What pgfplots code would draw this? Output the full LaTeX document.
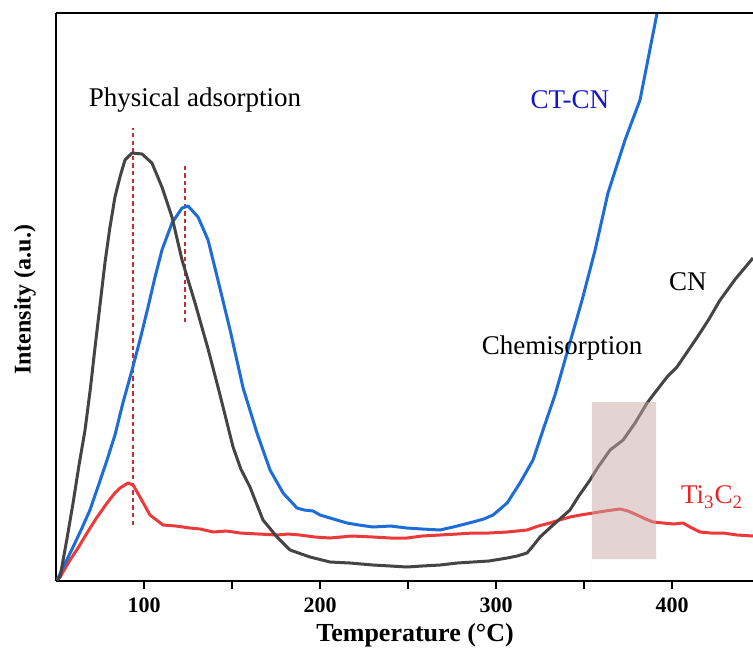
\documentclass[border=0pt]{standalone}
\usepackage{fontspec}
\setmainfont{Liberation Serif}
\usepackage{pgfplots}
\pgfplotsset{compat=1.18}
\definecolor{cngray}{RGB}{68,68,68}
\definecolor{ctblue}{RGB}{28,108,218}
\definecolor{tired}{RGB}{236,58,58}
\definecolor{dashred}{RGB}{200,45,45}
\definecolor{lblblue}{RGB}{20,20,205}
\definecolor{lblred}{RGB}{232,35,35}
\definecolor{boxc}{RGB}{199,167,167}
\begin{document}
\begin{tikzpicture}
\begin{axis}[name=ax,
  scale only axis, width=348.5pt, height=284pt,
  xmin=50, xmax=446, ymin=0, ymax=568,
  axis x line*=bottom, axis y line*=left,
  axis line style={line width=0.9pt},
  xtick={100,200,300,400}, minor xtick={150,250,350},
  ytick=\empty,
  tick align=outside,
  major tick length=4pt, minor tick length=4pt,
  every tick/.style={line width=0.9pt, black},
  /pgf/number format/assume math mode=true,
  xticklabel style={font=\fontsize{11}{13}\selectfont\bfseries, yshift=-1pt},
  clip=false,
]
% dashed guide lines
\addplot[dashred, line width=0.7pt, dash pattern=on 2.2pt off 1.6pt] coordinates {(93.75,56) (93.75,453)};
\addplot[dashred, line width=0.7pt, dash pattern=on 2.2pt off 1.6pt] coordinates {(123.3,259) (123.3,418)};
% Ti3C2
\addplot[tired, line width=1.5pt, line join=round] coordinates {
(50.6,1) (52.3,4) (58.0,21) (62.5,33) (67.6,48) (73.0,63) (79.0,78) (83.0,87) (86.4,93) (90.9,98) (93.8,96)
(97.7,84) (103.4,66) (110.8,56) (118,55) (126.1,53) (132,52) (139.2,49) (147,50) (154.5,48) (165,47) (175.6,46)
(182,47) (188.6,46) (197,44) (205.7,43) (218,45) (230.1,44) (240,43) (249.4,43) (258,45) (268.2,46) (278,47) (286.9,48)
(296,48) (306.3,49) (312,50) (317.6,51) (324,55) (330.7,58) (336,61) (342.0,64) (348,66) (355.1,68) (362,70) (370.5,72)
(375,70) (380.1,66) (385,62) (389.2,59) (395,58) (401,57) (406.3,58) (410.2,54) (415.9,49) (422,48) (429.0,48) (437,46) (446.0,45)};
% CT-CN
\addplot[ctblue, line width=1.5pt, line join=round] coordinates {
(50.6,1) (55,17) (59.7,34) (64.5,52) (69.3,71) (74,95) (79.0,121) (83.5,146) (88,178) (93.2,211) (98,243) (102.3,274)
(106,302) (110.2,331) (115.9,358) (121.6,373) (125.0,375) (130.7,364) (136.4,341) (142.0,301) (148.9,251) (156.3,193)
(164.2,148) (171.6,111) (179.0,88) (186.9,73) (191,71) (196.0,70) (200,66) (205.7,63) (215.3,58) (222,56) (230.1,54)
(240,55) (249.4,53) (258,52) (268.2,51) (278,55) (286.9,59) (293,62) (298.3,66) (306.3,78) (313.6,98) (321.0,121)
(326.7,151) (333.5,186) (340.3,228) (348.9,281) (356.3,331) (363.6,388) (373.3,441) (381.8,481) (391.5,568)};
% CN
\addplot[cngray, line width=1.5pt, line join=round] coordinates {
(50.6,1) (52.3,4) (56,40) (59.7,78) (63,115) (66.5,151) (69.5,192) (72.2,234) (75,276) (77.8,318) (80.5,352) (83.5,384)
(86.5,405) (89.2,421) (93.2,428) (98.9,427) (104.5,418) (110.2,394) (115.9,364) (121.6,321) (129.0,278) (136.4,232)
(143.2,186) (150.6,134) (155,112) (160.2,94) (167.6,61) (175.6,44) (183.0,31) (194.3,24) (205.7,19) (217.0,18)
(230.1,16) (240,15) (249.4,14) (258,15) (268.2,16) (278,18) (286.9,19) (296,20) (306.3,23) (312,25) (317.6,28) (321,35)
(325.0,44) (332.4,56) (342.0,71) (347,85) (353.4,101) (358,114) (364.8,131) (372.2,141) (379,158) (385.8,178) (391,190)
(397.2,204) (402.8,214) (409,230) (415.9,248) (421,262) (427.3,281) (436,302) (446.0,323)};
% highlight box
\addplot[draw=none, fill=boxc, fill opacity=0.5] coordinates {(354.5,22) (390.9,22) (390.9,179) (354.5,179)} \closedcycle;
% top line
\draw[line width=0.9pt] (rel axis cs:0,1) -- (rel axis cs:1,1);
% labels
\node[font=\fontsize{13.5}{16}\selectfont] at (axis cs:129,481) {Physical adsorption};
\node[font=\fontsize{13.5}{16}\selectfont, text=lblblue] at (axis cs:342,481) {CT-CN};
\node[font=\fontsize{13.5}{16}\selectfont] at (axis cs:409,299) {CN};
\node[font=\fontsize{13.5}{16}\selectfont] at (axis cs:337.5,233) {Chemisorption};
\node[font=\fontsize{13.5}{16}\selectfont, text=lblred] at (axis cs:422.7,84) {Ti\textsubscript{3}C\textsubscript{2}};
\node[font=\fontsize{13}{15}\selectfont\bfseries] at ([yshift=-27pt]axis cs:254,0) {Temperature (°C)};
\node[font=\fontsize{12}{14}\selectfont\bfseries, rotate=90] at ([xshift=-15.5pt]rel axis cs:0,0.495) {Intensity (a.u.)};
\end{axis}
\pgfresetboundingbox
\path[use as bounding box] ([xshift=-28pt,yshift=-36.5pt]ax.south west) rectangle ([yshift=6.5pt]ax.north east);
\end{tikzpicture}
\end{document}
